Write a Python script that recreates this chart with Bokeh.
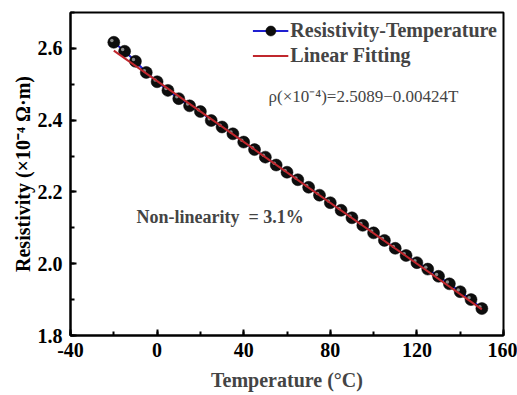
import math
from bokeh.plotting import figure
from bokeh.models import (ColumnDataSource, Legend, LegendItem, Label, Title,
                          SingleIntervalTicker, PrintfTickFormatter, Range1d)
from bokeh.transform import dodge
from bokeh.embed import file_html
from bokeh.resources import INLINE

# ---- data ----
temperature = [-20, -15, -10, -5, 0, 5, 10, 15, 20, 25, 30, 35, 40, 45, 50, 55,
               60, 65, 70, 75, 80, 85, 90, 95, 100, 105, 110, 115, 120, 125,
               130, 135, 140, 145, 150]
resistivity = [2.617, 2.592, 2.564, 2.533, 2.507, 2.483, 2.460, 2.440, 2.424,
               2.399, 2.381, 2.362, 2.339, 2.318, 2.297, 2.275, 2.255, 2.234,
               2.213, 2.191, 2.170, 2.149, 2.128, 2.107, 2.086, 2.065, 2.043,
               2.023, 2.003, 1.985, 1.965, 1.944, 1.922, 1.900, 1.875]
fit_intercept = 2.5089
fit_slope = -0.00424
fit_t = [-20, 150]
fit_rho = [fit_intercept + fit_slope * t for t in fit_t]

series_label = "Resistivity-Temperature"
fit_label = "Linear Fitting"
equation_text = "\u03c1(\u00d710\u207b\u2074)=2.5089\u22120.00424T"
nonlin_text = "Non-linearity\u00a0\u00a0= 3.1%"
x_label = "Temperature (\u00b0C)"
y_label = "Resistivity (\u00d710\u207b\u2074 \u03a9\u00b7m)"

SERIF = "Liberation Serif"

src = ColumnDataSource(dict(t=temperature, rho=resistivity))
fit_src = ColumnDataSource(dict(t=fit_t, rho=fit_rho))

p = figure(width=517, height=395, output_backend="svg", toolbar_location=None,
           x_range=Range1d(-40, 160), y_range=Range1d(1.8, 2.7),
           min_border_left=70, min_border_right=14, min_border_top=12,
           min_border_bottom=60)
p.background_fill_color = "white"
p.border_fill_color = "white"
p.grid.visible = False
p.outline_line_color = "black"
p.outline_line_width = 2

blue = p.line("t", "rho", source=src, line_color="#1f1fd0", line_width=2)
balls = p.scatter("t", "rho", source=src, size=12, fill_color="#0d0d0d",
                  line_color="#000000", line_width=0.5)
shine = p.scatter(x=dodge("t", -0.9), y=dodge("rho", 0.005), source=src,
                  size=3.5, fill_color="#8a8a8a", line_color=None)
red = p.line("t", "rho", source=fit_src, line_color="#c0272d", line_width=2)

# axes
p.xaxis.ticker = SingleIntervalTicker(interval=40, num_minor_ticks=2)
p.yaxis.ticker = SingleIntervalTicker(interval=0.2, num_minor_ticks=2)
p.xaxis.formatter = PrintfTickFormatter(format="%d")
p.yaxis.formatter = PrintfTickFormatter(format="%.1f")
for ax in (p.xaxis[0], p.yaxis[0]):
    ax.axis_line_width = 2
    ax.axis_line_color = "black"
    ax.major_tick_in = 6
    ax.major_tick_out = 0
    ax.minor_tick_in = 4
    ax.minor_tick_out = 0
    ax.major_tick_line_width = 2
    ax.minor_tick_line_width = 2
    ax.major_label_text_font = SERIF
    ax.major_label_text_font_style = "bold"
    ax.major_label_text_font_size = "20px"
    ax.major_label_text_color = "black"
p.xaxis.major_label_standoff = 7
p.yaxis.major_label_standoff = 8
p.xaxis.axis_label = x_label
p.xaxis.axis_label_text_font = SERIF
p.xaxis.axis_label_text_font_style = "bold"
p.xaxis.axis_label_text_font_size = "20px"
p.xaxis.axis_label_standoff = 9

ytitle = Title(text=y_label, align="center", offset=-58, text_font=SERIF,
               text_font_style="bold", text_font_size="20px",
               text_color="black", standoff=2)
p.add_layout(ytitle, "left")

p.add_layout(Label(x=198, y=239, x_units="screen", y_units="screen",
                   text=equation_text, text_align="left", text_baseline="middle",
                   text_font=SERIF, text_font_size="17px"))
p.add_layout(Label(x=66, y=119, x_units="screen", y_units="screen",
                   text=nonlin_text, text_align="left", text_baseline="middle",
                   text_font=SERIF, text_font_style="bold", text_font_size="18px"))

legend = Legend(items=[LegendItem(label=series_label, renderers=[blue, balls]),
                       LegendItem(label=fit_label, renderers=[red])],
                location="top_right")
legend.border_line_color = None
legend.background_fill_alpha = 0
legend.label_text_font = SERIF
legend.label_text_font_style = "bold"
legend.label_text_font_size = "20px"
legend.glyph_width = 36
legend.glyph_height = 25
legend.label_height = 25
legend.label_standoff = 2
legend.spacing = 0
legend.padding = 3
legend.margin = 6
p.add_layout(legend)

open("out.html", "w").write(file_html(p, INLINE))
